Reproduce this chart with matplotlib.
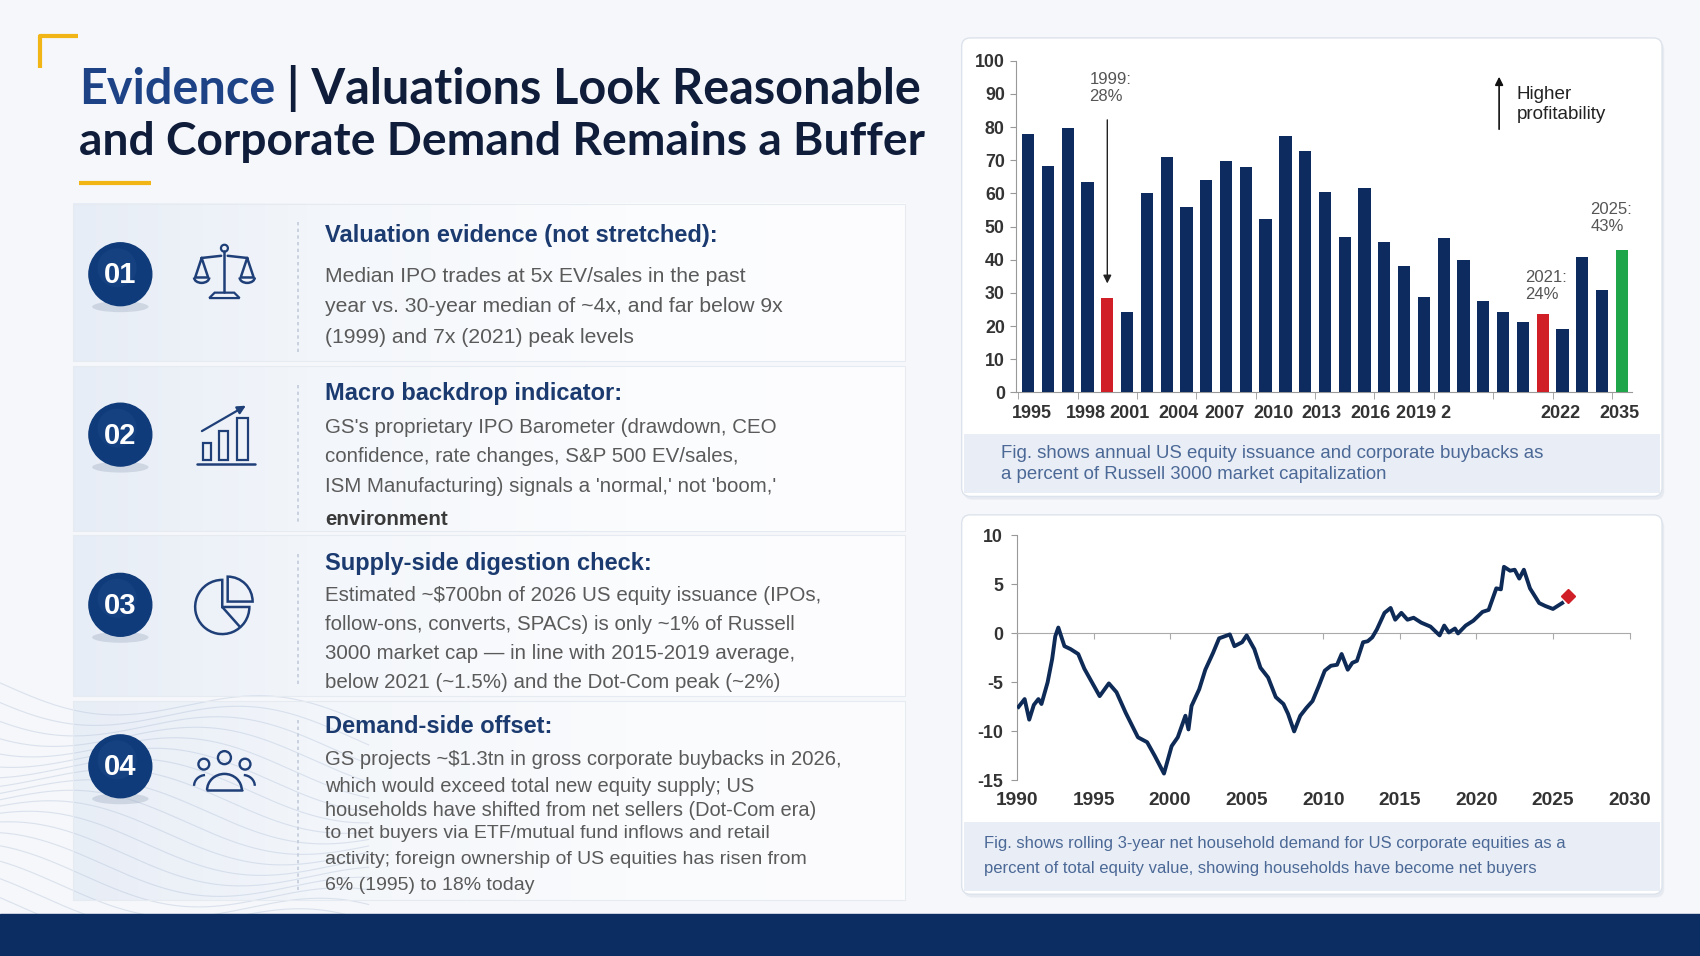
import numpy as np
import matplotlib
matplotlib.use("Agg")
from matplotlib import pyplot as plt
from matplotlib.patches import Rectangle, Circle, Ellipse, FancyBboxPatch, Arc, Polygon, Wedge
from matplotlib.colors import LinearSegmentedColormap

plt.rcParams['font.family'] = ['Liberation Sans', 'DejaVu Sans']
plt.rcParams['axes.unicode_minus'] = False

# ---- data: top chart (issuance + buybacks, % of Russell 3000 mkt cap)
bar_values = [77.8, 68.2, 79.6, 63.5, 28.6, 24.2, 60.1, 71.0, 55.9, 63.9,
              69.7, 67.8, 52.2, 77.2, 72.9, 60.5, 46.8, 61.5, 45.3, 38.0,
              28.7, 46.5, 39.8, 27.5, 24.3, 21.2, 23.6, 19.0, 40.9, 31.0, 43.0]
highlight_red = [4, 26]
highlight_green = [30]
bar_tick_labels = ["1995", "1998", "2001", "2004", "2007", "2010",
                   "2013", "2016", "2019 2", "2022", "2035"]
bar_tick_pos = [0.2, 2.9, 5.1, 7.6, 9.9, 12.4, 14.8, 17.3, 20.0, 26.9, 29.9]

# ---- data: bottom chart (rolling 3y net household demand, %)
hh_years = [1990.1, 1990.5, 1990.8, 1991.1, 1991.4, 1991.6, 1992.0, 1992.3, 1992.5, 1992.7,
            1993.1, 1993.5, 1994.0, 1994.4, 1994.9, 1995.4, 1996.0, 1996.5, 1997.1, 1997.9,
            1998.5, 1999.0, 1999.6, 2000.1, 2000.5, 2001.0, 2001.2, 2001.4, 2001.9, 2002.3,
            2002.8, 2003.2, 2003.9, 2004.2, 2004.7, 2005.0, 2005.5, 2005.9, 2006.4, 2006.9,
            2007.4, 2007.7, 2008.1, 2008.5, 2008.9, 2009.3, 2009.7, 2010.1, 2010.5, 2010.9,
            2011.2, 2011.6, 2011.9, 2012.2, 2012.6, 2012.9, 2013.2, 2013.5, 2014.0, 2014.4,
            2014.7, 2015.1, 2015.5, 2015.9, 2016.4, 2017.0, 2017.6, 2017.9, 2018.2, 2018.6,
            2018.8, 2019.3, 2019.8, 2020.4, 2020.8, 2021.3, 2021.6, 2021.8, 2022.2, 2022.5,
            2022.8, 2023.1, 2023.5, 2024.1, 2024.5, 2025.0, 2025.6]
hh_values = [-7.5, -6.7, -8.8, -7.3, -6.7, -7.2, -5.0, -2.6, -0.3, 0.6,
             -1.3, -1.6, -2.1, -3.6, -5.0, -6.4, -5.1, -6.0, -8.1, -10.6,
             -11.1, -12.5, -14.3, -11.5, -10.6, -8.4, -9.8, -7.4, -5.7, -3.7,
             -2.0, -0.5, -0.1, -1.3, -0.9, -0.2, -1.6, -3.5, -4.5, -6.5,
             -7.2, -8.2, -10.0, -8.4, -7.6, -6.9, -5.4, -3.8, -3.3, -3.2,
             -2.1, -3.7, -3.0, -2.8, -0.9, -0.8, -0.4, 0.4, 2.1, 2.6,
             1.4, 2.1, 1.4, 1.6, 1.1, 0.7, -0.2, 0.8, 0.1, 0.5,
             0.0, 0.8, 1.3, 2.2, 2.4, 4.6, 4.5, 6.8, 6.4, 6.5,
             5.6, 6.5, 4.6, 3.1, 2.8, 2.5, 3.1]
hh_latest_year = 2026.0
hh_latest_value = 3.8

# ---- slide text
headings = ["Valuation evidence (not stretched):",
            "Macro backdrop indicator:",
            "Supply-side digestion check:",
            "Demand-side offset:"]
bodies = [
    ["Median IPO trades at 5x EV/sales in the past",
     "year vs. 30-year median of ~4x, and far below 9x",
     "(1999) and 7x (2021) peak levels"],
    ["GS's proprietary IPO Barometer (drawdown, CEO",
     "confidence, rate changes, S&P 500 EV/sales,",
     "ISM Manufacturing) signals a 'normal,' not 'boom,'",
     "environment"],
    ["Estimated ~$700bn of 2026 US equity issuance (IPOs,",
     "follow-ons, converts, SPACs) is only ~1% of Russell",
     "3000 market cap \u2014 in line with 2015-2019 average,",
     "below 2021 (~1.5%) and the Dot-Com peak (~2%)"],
    ["GS projects ~$1.3tn in gross corporate buybacks in 2026,",
     "which would exceed total new equity supply; US",
     "households have shifted from net sellers (Dot-Com era)",
     "to net buyers via ETF/mutual fund inflows and retail",
     "activity; foreign ownership of US equities has risen from",
     "6% (1995) to 18% today"],
]
body_sizes = [[15.2, 15.2, 15.2], [14.8, 14.8, 14.8, 14.8], [14.8, 14.8, 14.8, 14.8],
              [14.6, 14.5, 14.4, 14.0, 14.0, 14.0]]

NAVY = "#0d2b5e"
ICON = "#1f3f78"

fig = plt.figure(figsize=(17, 9.56), dpi=100)
fig.patch.set_facecolor("#f5f7fa")

# background canvas in "slide pixels" (1568 x 882, y down)
bg = fig.add_axes([0, 0, 1, 1])
bg.set_xlim(0, 1568)
bg.set_ylim(882, 0)
bg.axis("off")

# faint waves bottom-left
wx = np.linspace(0, 340, 200)
for k in range(18):
    wy = 630 + k * 12 + 18 * np.sin(wx / 55 + k * 0.35) + wx * 0.12
    bg.plot(wx, wy, color="#a9bad4", lw=0.8, alpha=0.35, zorder=2.05)

# yellow bracket + underline
bg.plot([37, 37, 72], [63, 33, 33], color="#f2b516", lw=3, solid_capstyle="butt", zorder=3)
bg.plot([73, 139], [169, 169], color="#f2b516", lw=3, solid_capstyle="butt", zorder=3)

# title
title_font = dict(fontweight="bold", family=["Lato", "DejaVu Sans"])
t1 = bg.text(73, 96, "Evidence", fontsize=35, color="#1d4386", va="baseline", ha="left",
             zorder=4, **title_font)
bg.annotate(" | Valuations Look Reasonable", xy=(1, 0), xycoords=t1, va="bottom", ha="left",
            fontsize=35, color="#0f1d3a", zorder=4, **title_font)
bg.text(73, 143, "and Corporate Demand Remains a Buffer", fontsize=33.2, color="#0f1d3a",
        va="baseline", ha="left", zorder=4, **title_font)

# cards
card_rows = [(188, 333), (338, 490), (494, 642), (647, 830)]
circle_y = [253, 401, 558, 707]
head_y = [217, 363, 520, 670]
body_y = [[255, 283, 311], [394, 421, 449, 479], [549, 576, 603, 630],
          [701, 726, 748, 769, 793, 817]]
grad_cmap = LinearSegmentedColormap.from_list("card", ["#e7edf6", "#f4f7fb", "#fbfcfe", "#fdfdfe"])
grad = np.linspace(0, 1, 256).reshape(1, -1)
for i, (y0, y1) in enumerate(card_rows):
    bg.imshow(grad, extent=[67, 835, y1, y0], cmap=grad_cmap, aspect="auto", zorder=2,
              alpha=0.9 if i == 3 else 1.0)
    bg.add_patch(Rectangle((67, y0), 768, y1 - y0, fill=False, ec="#e6eaf1", lw=0.8, zorder=2.1))
    bg.plot([275, 275], [y0 + 17, y1 - 8], color="#c3ccdb", lw=1.2, ls=(0, (2, 2)), zorder=3)
    cy = circle_y[i]
    bg.add_patch(Ellipse((111, cy + 30), 52, 10, color="#9aa8bd", alpha=0.35, lw=0, zorder=3))
    bg.add_patch(Circle((111, cy), 29, color="#0f3b7a", zorder=4))
    bg.add_patch(Circle((108, cy - 6), 18, color="#2a5594", alpha=0.25, lw=0, zorder=4.1))
    bg.text(111, cy + 1, f"{i + 1:02d}", color="white", fontsize=21, fontweight="bold",
            ha="center", va="center", zorder=5)
    bg.text(300, head_y[i], headings[i], color="#1b3a6f", fontsize=17, fontweight="bold",
            ha="left", va="center", zorder=5)
    for j, line in enumerate(bodies[i]):
        bold = (i == 1 and j == 3)
        bg.text(300, body_y[i][j], line, color="#3a3a3a" if bold else "#5a5a5a",
                fontsize=body_sizes[i][j], fontweight="bold" if bold else "normal",
                ha="left", va="center", zorder=5)
bg.set_xlim(0, 1568)
bg.set_ylim(882, 0)

# icons
ik = dict(color=ICON, lw=1.8, solid_capstyle="round", zorder=5)
# scales
bg.plot([207, 207], [232, 269], **ik)
bg.add_patch(Circle((207, 229), 3.2, fill=False, ec=ICON, lw=1.6, zorder=5))
bg.plot([186, 204], [238, 236], **ik)
bg.plot([210, 228], [236, 238], **ik)
for px in (186, 228):
    bg.plot([px, px - 6, px + 6, px], [238, 256, 256, 238], **ik)
    bg.add_patch(Arc((px, 256), 14, 10, theta1=0, theta2=180, ec=ICON, lw=1.8, zorder=5))
bg.add_patch(Polygon([[198, 270], [216, 270], [221, 275], [193, 275]], closed=True,
                     fill=False, ec=ICON, lw=1.6, zorder=5))
# bar chart
bg.plot([182, 235], [428, 428], **ik)
for bx, btop, bw in [(187, 409, 8), (202, 398, 8), (219, 386, 10)]:
    bg.add_patch(Rectangle((bx, btop), bw, 424 - btop, fill=False, ec=ICON, lw=1.6, zorder=5))
bg.annotate("", xy=(229, 373), xytext=(184, 399),
            arrowprops=dict(arrowstyle="-|>", color=ICON, lw=1.6, mutation_scale=12), zorder=5)
# pie
bg.add_patch(Wedge((205, 560), 25, 0, 270, fill=False, ec=ICON, lw=1.8, zorder=5))
bg.add_patch(Wedge((210, 555), 23, 270, 360, fill=False, ec=ICON, lw=1.8, zorder=5))
bg.plot([205, 221], [560, 578], **ik)
# people
for hx, hyy, hr in [(188, 705, 5), (207, 699, 6), (226, 705, 5)]:
    bg.add_patch(Circle((hx, hyy), hr, fill=False, ec=ICON, lw=1.7, zorder=5))
bg.add_patch(Arc((207, 729), 32, 30, theta1=180, theta2=360, ec=ICON, lw=1.8, zorder=5))
bg.plot([191, 223], [729, 729], **ik)
bg.add_patch(Arc((190, 725), 22, 20, theta1=180, theta2=265, ec=ICON, lw=1.7, zorder=5))
bg.add_patch(Arc((224, 725), 22, 20, theta1=275, theta2=360, ec=ICON, lw=1.7, zorder=5))

# right panels
for (py0, py1, cy0) in [(35, 458, 400), (475, 825, 758)]:
    bg.add_patch(FancyBboxPatch((889, py0 + 3), 646, py1 - py0, boxstyle="round,pad=0,rounding_size=8",
                                fc="#dfe4ec", ec="none", alpha=0.6, zorder=2))
    bg.add_patch(FancyBboxPatch((887, py0), 646, py1 - py0, boxstyle="round,pad=0,rounding_size=8",
                                fc="white", ec="#dde3ec", lw=1, zorder=2.2))
    bg.add_patch(Rectangle((889, cy0), 642, py1 - cy0 - 3, fc="#e9eef6", ec="none", zorder=2.3))

bg.text(923, 418, "Fig. shows annual US equity issuance and corporate buybacks as", fontsize=13.4,
        color="#4b6896", ha="left", va="center", zorder=5)
bg.text(923, 438, "a percent of Russell 3000 market capitalization", fontsize=13.4,
        color="#4b6896", ha="left", va="center", zorder=5)
bg.text(908, 778, "Fig. shows rolling 3-year net household demand for US corporate equities as a",
        fontsize=12, color="#4b6896", ha="left", va="center", zorder=5)
bg.text(908, 801, "percent of total equity value, showing households have become net buyers",
        fontsize=12, color="#4b6896", ha="left", va="center", zorder=5)

# bottom band
bg.add_patch(Rectangle((0, 843), 1568, 40, color="#0b2d62", zorder=6))

ytick_kw = dict(fontsize=12.8, fontweight="bold", color="#333333")

# ---- top chart
ax1 = fig.add_axes([937 / 1568, 1 - 362 / 882, (1505 - 937) / 1568, (362 - 56) / 882])
ax1.set_facecolor("none")
x = np.arange(len(bar_values))
colors = [NAVY] * len(bar_values)
for i in highlight_red:
    colors[i] = "#d11f27"
for i in highlight_green:
    colors[i] = "#1fa64a"
ax1.bar(x, bar_values, width=0.62, color=colors, zorder=3)
ax1.set_xlim(-0.62, 30.5)
ax1.set_ylim(0, 100)
ax1.set_yticks(np.arange(0, 101, 10))
ax1.set_yticklabels([str(v) for v in range(0, 101, 10)], **ytick_kw)
ax1.set_xticks(bar_tick_pos)
ax1.set_xticklabels(bar_tick_labels, fontsize=13.0, fontweight="bold", color="#333333")
ax1.set_xticks(np.arange(-0.5, 30, 3), minor=True)
ax1.tick_params(axis="x", which="major", length=0, pad=9)
ax1.tick_params(axis="x", which="minor", length=5, color="#999999")
ax1.tick_params(axis="y", length=4, color="#999999", pad=4)
for s in ("top", "right"):
    ax1.spines[s].set_visible(False)
for s in ("left", "bottom"):
    ax1.spines[s].set_color("#999999")

ax1.annotate("", xy=(4, 32), xytext=(4, 83),
             arrowprops=dict(arrowstyle="-|>", color="#222222", lw=1, mutation_scale=12))
ax1.text(3.1, 91.8, "1999:\n28%", fontsize=12, color="#555555", ha="left", va="center", linespacing=1.2)
ax1.annotate("", xy=(23.8, 96), xytext=(23.8, 78.5),
             arrowprops=dict(arrowstyle="-|>", color="#111111", lw=1.2, mutation_scale=12))
ax1.text(24.7, 86.8, "Higher\nprofitability", fontsize=13.6, color="#222222", ha="left", va="center",
         linespacing=1.25)
ax1.text(25.1, 32, "2021:\n24%", fontsize=12, color="#555555", ha="left", va="center", linespacing=1.2)
ax1.text(28.4, 52.6, "2025:\n43%", fontsize=12, color="#555555", ha="left", va="center", linespacing=1.2)

# ---- bottom chart
ax2 = fig.add_axes([938 / 1568, 1 - 720 / 882, (1503 - 938) / 1568, (720 - 494) / 882])
ax2.set_facecolor("none")
ax2.plot(hh_years, hh_values, color="#0e2a56", lw=2.8, solid_joinstyle="round", zorder=3)
ax2.plot([hh_latest_year], [hh_latest_value], marker="D", ms=7, color="#d11f27", zorder=4)
ax2.set_xlim(1990, 2030)
ax2.set_ylim(-15, 10)
ax2.set_yticks([10, 5, 0, -5, -10, -15])
ax2.set_yticklabels(["10", "5", "0", "-5", "-10", "-15"], **ytick_kw)
ax2.tick_params(axis="y", length=4, color="#999999", pad=6)
ax2.spines["bottom"].set_position(("data", 0))
ax2.spines["bottom"].set_color("#aaaaaa")
ax2.spines["left"].set_color("#999999")
for s in ("top", "right"):
    ax2.spines[s].set_visible(False)
ax2.set_xticks(np.arange(1990, 2031, 5))
ax2.tick_params(axis="x", length=4, color="#aaaaaa", labelbottom=False)
sec = ax2.secondary_xaxis("bottom")
sec.set_xticks(np.arange(1990, 2031, 5))
sec.set_xticklabels([str(v) for v in range(1990, 2031, 5)], fontsize=13.8, fontweight="bold",
                    color="#333333")
sec.tick_params(length=0, pad=8)
sec.spines["bottom"].set_visible(False)

fig.savefig("out.png", dpi=100, facecolor=fig.get_facecolor())
